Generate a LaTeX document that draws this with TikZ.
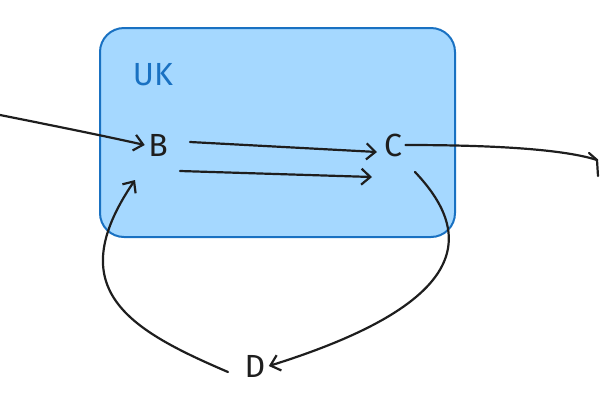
\documentclass[tikz,border=0pt]{standalone}
\usepackage{fontspec}
\setmainfont{Fira Sans}
\usetikzlibrary{arrows,arrows.meta}
\definecolor{ukfill}{HTML}{A5D8FF}
\definecolor{ukline}{HTML}{1971C2}
\definecolor{ink}{HTML}{1E1E1E}
\begin{document}
\begin{tikzpicture}[x=1pt,y=-1pt]
    \tikzset{
        flow/.style={draw=ink, line width=2.2pt, -{Straight Barb[length=9pt,width=16pt]}, line cap=round},
        lbl/.style={font=\fontsize{32}{36}\selectfont, text=ink}
    }
    \useasboundingbox (0, 0) rectangle (600, 400);

    % region
    \draw[fill=ukfill, draw=ukline, line width=2pt, rounded corners=24pt]
        (100, 28) rectangle (455, 237);
    \node[lbl, text=ukline] (uk) at (153, 75) {UK};

    % cities
    \node[lbl] (b) at (158, 145) {B};
    \node[lbl] (c) at (393, 145) {C};
    \node[lbl] (d) at (255, 366) {D};
    \coordinate (west) at (0, 115);
    \coordinate (east) at (597, 160);

    % links
    \draw[flow] (west) .. controls (50, 125) and (100, 135) .. (b.west);
    \draw[flow] (190, 142) -- (377, 152);
    \draw[flow] (180, 171) -- (372, 177);
    \draw[flow, -] (c.east) .. controls (480, 145) and (560, 148) .. (east);
    \draw[ink, line width=2.2pt, line cap=round] (589, 153) -- (597, 160) -- (598, 176);
    \draw[flow] (415, 172) .. controls (470, 230) and (480, 300) .. (d.east);
    \draw[flow] (228, 372) .. controls (130, 330) and (60, 290) .. (135, 180);
\end{tikzpicture}
\end{document}
